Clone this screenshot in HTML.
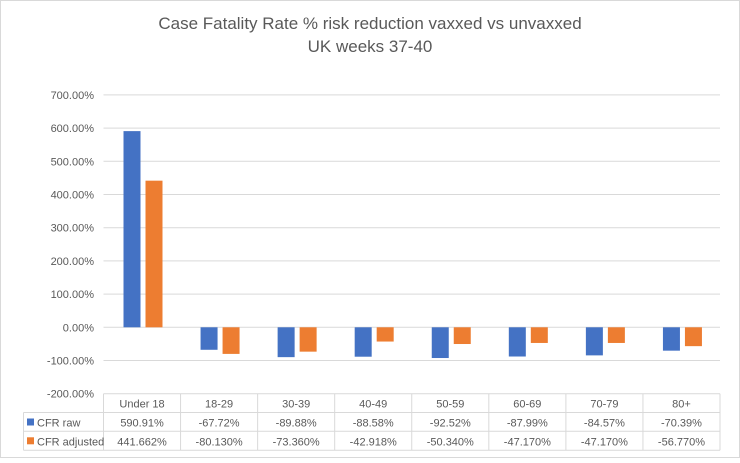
<!DOCTYPE html>
<html><head><meta charset="utf-8"><style>
body{margin:0;background:#fff;font-family:"Liberation Sans",sans-serif;}
svg text{font-family:"Liberation Sans",sans-serif;}
</style></head><body>
<svg id="chart" width="740" height="458" xmlns="http://www.w3.org/2000/svg">
<rect x="0.5" y="0.5" width="739" height="457" fill="#fff" stroke="#d9d9d9"/>
<text x="370" y="29" text-anchor="middle" font-size="17" fill="#595959">Case Fatality Rate % risk reduction vaxxed vs unvaxxed</text>
<text x="370" y="52" text-anchor="middle" font-size="17" fill="#595959">UK weeks 37-40</text>
<g id="grid"></g><g id="bars"></g><g id="table"></g>
</svg>
<script>
const categories=["Under 18","18-29","30-39","40-49","50-59","60-69","70-79","80+"];
const rawValues=[590.91,-67.72,-89.88,-88.58,-92.52,-87.99,-84.57,-70.39];
const adjValues=[441.662,-80.130,-73.360,-42.918,-50.340,-47.170,-47.170,-56.770];
const rawLabels=["590.91%","-67.72%","-89.88%","-88.58%","-92.52%","-87.99%","-84.57%","-70.39%"];
const adjLabels=["441.662%","-80.130%","-73.360%","-42.918%","-50.340%","-47.170%","-47.170%","-56.770%"];
const yTicks=[700,600,500,400,300,200,100,0,-200,-100];
const NS="http://www.w3.org/2000/svg";
const X0=103.5,X1=720,Y0=327.3,PX=33.2;
const cw=(X1-X0)/categories.length;
const y=v=>Y0-v*PX/100;
function mk(t,a,p,txt){const e=document.createElementNS(NS,t);for(const k in a)e.setAttribute(k,a[k]);if(txt!==undefined)e.textContent=txt;p.appendChild(e);return e;}
const grid=document.getElementById('grid');
yTicks.forEach(v=>{
 if(v>-200){const l=mk('line',{x1:X0,x2:X1,y1:y(v),y2:y(v),stroke:'#d9d9d9','stroke-width':1},grid);
 
 }
 const t=mk('text',{x:94,y:y(v)+4,'text-anchor':'end','font-size':11,fill:'#595959'},grid,v.toFixed(2)+'%');
 
 
});
const bars=document.getElementById('bars');
categories.forEach((c,i)=>{
 const bx=X0+i*cw+20;
 [[rawValues[i],'#4472c4',0],[adjValues[i],'#ed7d31',22]].forEach(([v,col,off],k)=>{
  const r=mk('rect',{x:bx+off,y:Math.min(y(v),Y0),width:17,height:Math.abs(y(v)-Y0),fill:col},bars);
  
  
 });
});
const tb=document.getElementById('table');
const R=[393.7,412.5,431.3,450.3],LX=23.5;
const st={stroke:'#d9d9d9','stroke-width':1};
R.forEach((ry,i)=>{mk('line',Object.assign({x1:i==0?X0:LX,x2:X1,y1:ry,y2:ry},st),tb);});
mk('line',Object.assign({x1:LX,x2:LX,y1:R[1],y2:R[3]},st),tb);
for(let i=0;i<=categories.length;i++){const xx=X0+i*cw;mk('line',Object.assign({x1:xx,x2:xx,y1:R[0],y2:R[3]},st),tb);}
categories.forEach((c,i)=>{
 const cx=X0+(i+0.5)*cw;
 const h=mk('text',{x:cx,y:R[0]+14,'text-anchor':'middle','font-size':11,fill:'#595959'},tb,c);
 
 
 const a=mk('text',{x:cx,y:R[1]+14,'text-anchor':'middle','font-size':11,fill:'#595959'},tb,rawLabels[i]);
 
 
 const b=mk('text',{x:cx,y:R[2]+14,'text-anchor':'middle','font-size':11,fill:'#595959'},tb,adjLabels[i]);
 
 
});
[['CFR raw','#4472c4'],['CFR adjusted','#ed7d31']].forEach(([n,col],k)=>{
 const s=mk('rect',{x:27,y:R[k+1]+6,width:7,height:7,fill:col},tb);
 
 
 const t=mk('text',{x:37,y:R[k+1]+14,'font-size':11,fill:'#595959'},tb,n);
 
 
});
</script>
</body></html>
